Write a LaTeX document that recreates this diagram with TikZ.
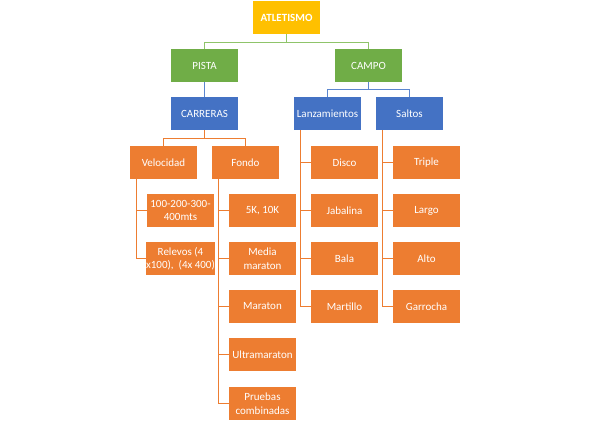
\documentclass[tikz,border=0pt]{standalone}
\usepackage{fontspec}
\setmainfont{Carlito}
\definecolor{cgold}{HTML}{FFC000}
\definecolor{cgreen}{HTML}{70AD47}
\definecolor{cblue}{HTML}{4472C4}
\definecolor{corange}{HTML}{ED7D31}
\definecolor{lgreen}{HTML}{8FC46A}
\definecolor{lblue}{HTML}{5B86CF}
\begin{document}
\begin{tikzpicture}[x=1pt,y=-1pt,
  box/.style={minimum width=67pt,minimum height=33pt,inner sep=0pt,text=white,
    font=\fontsize{11}{13.5}\selectfont,align=center},
  goldbox/.style={box,fill=cgold,font=\fontsize{11}{13.5}\selectfont\bfseries},
  greenbox/.style={box,fill=cgreen},
  bluebox/.style={box,fill=cblue},
  orbox/.style={box,fill=corange},
  gline/.style={draw=lgreen,line width=0.9pt},
  bline/.style={draw=lblue,line width=0.9pt},
  oline/.style={draw=corange,line width=0.9pt}]
\useasboundingbox (0,0) rectangle (589,422);
\fill[white] (0,0) rectangle (589,422);

\node[goldbox] (atl) at (286.5,17.5) {ATLETISMO};
\node[greenbox] (pista) at (204.5,65.5) {PISTA};
\node[greenbox] (campo) at (368.5,65.5) {CAMPO};
\node[bluebox] (carr) at (204.5,113.5) {CARRERAS};
\node[bluebox] (lanz) at (327.5,113.5) {Lanzamientos};
\node[bluebox] (salt) at (409.5,113.5) {Saltos};
\node[orbox] (vel) at (163.5,162.5) {Velocidad};
\node[orbox] (fondo) at (245.5,162.5) {Fondo};
\node[orbox] (v1) at (180.5,210.5) {100-200-300-\\400mts};
\node[orbox] (v2) at (180.5,258.5) {Relevos (4\\x100),\ \ (4x 400)};
\node[orbox] (f1) at (262.5,210.5) {5K, 10K};
\node[orbox] (f2) at (262.5,258.5) {Media\\maraton};
\node[orbox] (f3) at (262.5,306.5) {Maraton};
\node[orbox] (f4) at (262.5,354.5) {Ultramaraton};
\node[orbox] (f5) at (262.5,403.5) {Pruebas\\combinadas};
\node[orbox] (l1) at (344.5,162.5) {Disco};
\node[orbox] (l2) at (344.5,210.5) {Jabalina};
\node[orbox] (l3) at (344.5,258.5) {Bala};
\node[orbox] (l4) at (344.5,306.5) {Martillo};
\node[orbox] (s1) at (426.5,162.5) {Triple};
\node[orbox] (s2) at (426.5,210.5) {Largo};
\node[orbox] (s3) at (426.5,258.5) {Alto};
\node[orbox] (s4) at (426.5,306.5) {Garrocha};

% connectors
\draw[gline] (atl.south) -- ++(0,8) -| (pista.north);
\draw[gline] (atl.south) -- ++(0,8) -| (campo.north);
\draw[bline] (pista.south) -- (carr.north);
\draw[bline] (campo.south) -- ++(0,7) -| (lanz.north);
\draw[bline] (campo.south) -- ++(0,7) -| (salt.north);
\draw[oline] (carr.south) -- ++(0,8) -| (vel.north);
\draw[oline] (carr.south) -- ++(0,8) -| (fondo.north);
\foreach \c in {v1,v2}{\draw[oline] (vel.south west) ++(6.5,0) |- (\c.west);}
\foreach \c in {f1,f2,f3,f4,f5}{\draw[oline] (fondo.south west) ++(6.5,0) |- (\c.west);}
\foreach \c in {l1,l2,l3,l4}{\draw[oline] (lanz.south west) ++(6.5,0) |- (\c.west);}
\foreach \c in {s1,s2,s3,s4}{\draw[oline] (salt.south west) ++(6.5,0) |- (\c.west);}
\end{tikzpicture}
\end{document}
